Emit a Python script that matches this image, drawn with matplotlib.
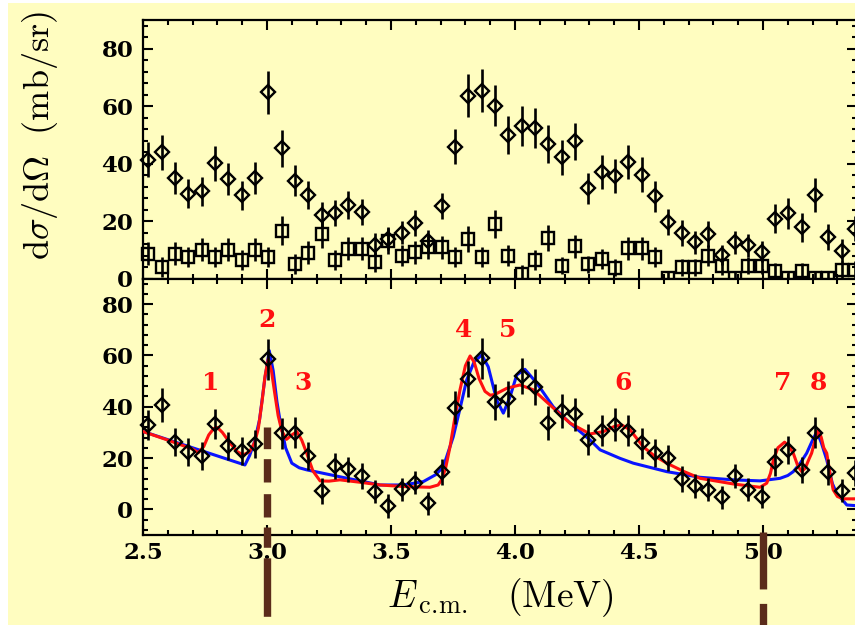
import matplotlib
matplotlib.use('Agg')
import matplotlib.pyplot as plt
from matplotlib.patches import Rectangle
from matplotlib.ticker import MultipleLocator, FormatStrFormatter

plt.rcParams['mathtext.fontset'] = 'cm'
plt.rcParams['lines.scale_dashes'] = False

# ---------------- data ----------------
energy = [2.521, 2.575, 2.629, 2.683, 2.737, 2.790, 2.844, 2.898, 2.952, 3.005,
          3.059, 3.113, 3.167, 3.220, 3.274, 3.328, 3.382, 3.435, 3.489, 3.543,
          3.597, 3.650, 3.704, 3.758, 3.812, 3.866, 3.919, 3.973, 4.027, 4.081,
          4.134, 4.188, 4.242, 4.296, 4.349, 4.403, 4.457, 4.511, 4.565, 4.618,
          4.672, 4.726, 4.780, 4.834, 4.887, 4.941, 4.995, 5.049, 5.102, 5.156,
          5.210, 5.264, 5.318, 5.371]

top_diamond = [41.4, 43.9, 34.9, 29.5, 30.3, 40.1, 34.7, 28.9, 34.9, 64.8,
               45.3, 34.1, 29.1, 22.1, 22.8, 25.6, 23.3, 11.7, 13.8, 15.9,
               19.2, 12.9, 25.2, 45.9, 63.7, 65.4, 60.2, 50.0, 53.2, 52.3,
               46.8, 42.2, 47.7, 31.4, 37.0, 35.6, 40.5, 36.2, 28.6, 19.6,
               15.8, 12.6, 15.5, 8.2, 12.6, 11.5, 9.4, 20.8, 22.7, 17.8,
               29.1, 14.4, 9.7, 17.4]
top_diamond_err = [6, 6, 5.5, 5, 5, 6, 5.5, 5, 5.5, 7.5,
                   6.5, 5.5, 5, 4.5, 4.5, 5, 4.5, 4, 4, 4,
                   4.5, 4, 4.5, 6, 7.5, 7.5, 7, 6.5, 7, 7,
                   6.5, 6, 6.5, 5.5, 6, 6, 6, 6, 5.5, 4.5,
                   4.5, 4, 4.5, 3.5, 4, 4, 3.5, 5, 5.5, 5,
                   6, 4.5, 4, 4.5]

top_square = [8.6, 3.9, 8.6, 7.6, 10.0, 7.6, 10.0, 6.5, 10.0, 7.6,
              16.7, 5.1, 8.9, 15.5, 6.5, 10.3, 10.3, 5.7, 13.2, 8.0,
              9.1, 10.9, 10.9, 7.4, 13.8, 7.4, 19.0, 8.0, 1.6, 6.3,
              14.0, 4.5, 11.2, 4.9, 6.8, 3.7, 10.6, 10.6, 7.6, 0.2,
              3.9, 3.9, 8.0, 4.2, 0.2, 4.5, 4.5, 2.5, 0.2, 2.5,
              0.2, 0.2, 3.0, 3.0]
top_square_err = [4, 3.5, 4, 3.5, 4, 3.5, 4, 3.5, 4, 3.5,
                  5, 3.5, 4, 5, 3.5, 4, 4, 3.5, 4.5, 3.5,
                  4, 4, 4, 3.5, 4.5, 3.5, 5, 3.5, 3, 3.5,
                  4.5, 3, 4, 3, 3.5, 3, 4, 4, 3.5, 2.5,
                  3, 3, 3.5, 3, 2.5, 3, 3, 3, 2.5, 3,
                  2.5, 2.5, 3, 3]

bottom_diamond = [32.9, 40.7, 26.2, 22.5, 20.9, 33.3, 24.8, 22.9, 25.5, 58.5,
                  29.7, 29.9, 20.8, 7.2, 17.0, 15.6, 13.0, 6.9, 1.3, 7.8,
                  10.4, 2.4, 14.5, 39.6, 50.7, 58.9, 42.0, 43.0, 52.0, 47.6,
                  33.6, 38.4, 37.1, 27.1, 30.7, 33.0, 30.7, 25.8, 21.9, 19.9,
                  11.9, 9.1, 7.6, 4.7, 13.0, 7.6, 5.0, 18.6, 23.2, 15.4,
                  29.9, 14.5, 7.3, 14.1]
bottom_diamond_err = [6, 6.5, 5.5, 5.5, 5.5, 6, 5.5, 5.5, 5.5, 8,
                      6, 6, 5.5, 5, 5, 5, 5, 4.5, 4.5, 4.5,
                      4.5, 4.5, 5, 6.5, 7, 8, 7, 7, 7, 7,
                      6.5, 6.5, 6.5, 6, 6, 6.5, 6, 6, 5.5, 5,
                      5, 4.5, 4.5, 4.5, 4.5, 4.5, 4.5, 5.5, 5.5, 5,
                      6, 5, 4.5, 5]

red_E = [2.48, 2.60, 2.70, 2.723, 2.745, 2.765, 2.785, 2.800, 2.820, 2.850,
         2.880, 2.904, 2.930, 2.950, 2.965, 2.980, 2.992, 3.005, 3.018, 3.030,
         3.045, 3.060, 3.079, 3.100, 3.120, 3.140, 3.160, 3.185, 3.214, 3.250,
         3.294, 3.380, 3.456, 3.550, 3.657, 3.690, 3.704, 3.720, 3.738, 3.758,
         3.778, 3.800, 3.819, 3.835, 3.855, 3.879, 3.900, 3.919, 3.967, 4.020,
         4.074, 4.141, 4.222, 4.302, 4.356, 4.400, 4.430, 4.464, 4.517, 4.560,
         4.612, 4.680, 4.746, 4.880, 4.988, 5.015, 5.030, 5.042, 5.060, 5.087,
         5.105, 5.122, 5.140, 5.156, 5.170, 5.185, 5.196, 5.210, 5.223, 5.235,
         5.245, 5.257, 5.270, 5.283, 5.300, 5.324, 5.380]
red_xs = [31.0, 27.0, 23.5, 22.1, 24.5, 29.0, 31.5, 31.9, 30.0, 26.0,
          22.5, 21.2, 22.5, 26.0, 31.5, 42.0, 52.0, 58.5, 54.0, 46.0,
          36.5, 30.5, 27.3, 29.0, 30.3, 27.0, 21.9, 15.0, 11.1, 11.0,
          11.5, 10.5, 9.5, 8.9, 8.6, 9.5, 11.5, 16.0, 24.4, 36.0,
          46.5, 56.0, 59.8, 57.5, 51.0, 46.0, 44.5, 44.8, 47.2, 48.5,
          46.6, 40.7, 33.6, 29.4, 30.3, 32.3, 32.9, 31.0, 24.4, 21.0,
          18.0, 14.8, 12.1, 9.9, 8.6, 10.2, 14.0, 19.3, 24.0, 26.2,
          24.5, 21.9, 17.0, 14.7, 16.0, 19.5, 21.9, 27.0, 31.0, 28.0,
          24.0, 21.9, 14.0, 7.6, 5.0, 4.1, 4.1]

blue_E = [2.48, 2.70, 2.911, 2.930, 2.950, 2.970, 2.990, 3.009, 3.025, 3.040,
          3.052, 3.075, 3.100, 3.130, 3.160, 3.294, 3.456, 3.550, 3.630, 3.680,
          3.711, 3.751, 3.780, 3.805, 3.835, 3.866, 3.892, 3.926, 3.953, 3.980,
          4.007, 4.040, 4.088, 4.154, 4.222, 4.302, 4.343, 4.423, 4.477, 4.612,
          4.746, 4.880, 4.988, 5.069, 5.100, 5.122, 5.150, 5.176, 5.200, 5.217,
          5.235, 5.257, 5.280, 5.297, 5.338, 5.380]
blue_xs = [31.0, 24.0, 17.3, 21.0, 26.5, 35.0, 50.0, 61.9, 54.0, 42.0,
           34.9, 24.0, 18.0, 16.2, 15.4, 12.7, 9.5, 9.5, 10.8, 13.5,
           16.6, 28.3, 40.0, 50.4, 57.5, 60.2, 55.6, 42.6, 37.5, 43.9,
           52.4, 54.6, 49.2, 40.0, 33.6, 27.1, 23.2, 19.9, 18.0, 14.7,
           12.5, 11.5, 11.1, 12.1, 13.2, 14.7, 18.0, 21.9, 27.0, 30.3,
           26.0, 19.3, 10.0, 6.3, 1.7, 1.4]

peak_labels = ['1', '2', '3', '4', '5', '6', '7', '8']
peak_E = [2.774, 2.999, 3.144, 3.792, 3.969, 4.437, 5.079, 5.223]
peak_y = [49.2, 73.8, 49.2, 70.0, 70.0, 49.2, 49.2, 49.2]

threshold_E = [3.0, 5.0]
threshold_top = [32.1, -9.0]

x_ticks = [2.5, 3.0, 3.5, 4.0, 4.5, 5.0]
y_ticks = [0, 20, 40, 60, 80]

# ---------------- style ----------------
YELLOW = '#FFFDC0'
BROWN = '#5b2c1b'
tick_font = dict(family='DejaVu Serif', weight='bold', size=16.5)

W, H = 855, 625
fig = plt.figure(figsize=(W / 100, H / 100), dpi=100, facecolor='white')
fig.patches.append(Rectangle((8 / W, 0), 1, 1 - 3 / H, transform=fig.transFigure,
                             facecolor=YELLOW, edgecolor='none', zorder=-10))

left = 143 / W
width = (857 - 143) / W
ax_top = fig.add_axes([left, 1 - 278.5 / H, width, (278.5 - 20) / H])
ax_bot = fig.add_axes([left, 1 - 535 / H, width, (535 - 278.5) / H])

for ax in (ax_top, ax_bot):
    ax.set_facecolor(YELLOW)
    ax.set_xlim(2.5, 5.379)
    ax.xaxis.set_major_locator(MultipleLocator(0.5))
    ax.xaxis.set_minor_locator(MultipleLocator(0.1))
    ax.yaxis.set_minor_locator(MultipleLocator(4))
    ax.set_yticks(y_ticks)
    ax.tick_params(which='both', direction='in', top=True, right=True,
                   width=1.5, color='black')
    ax.tick_params(which='major', length=7.5)
    ax.tick_params(which='minor', length=3.8)
    ax.tick_params(axis='y', pad=7)
    for s in ax.spines.values():
        s.set_linewidth(1.6)

ax_top.set_ylim(0, 90)
ax_bot.set_ylim(-10, 90)
ax_top.tick_params(axis='x', labelbottom=False)
ax_bot.set_xticks(x_ticks)
ax_bot.xaxis.set_major_formatter(FormatStrFormatter('%.1f'))
ax_bot.tick_params(axis='x', pad=5)
for lab in ax_bot.get_xticklabels():
    lab.set_fontproperties(tick_font)
for ax in (ax_top, ax_bot):
    for lab in ax.get_yticklabels():
        lab.set_fontproperties(tick_font)


def draw_points(ax, y, err, marker, ms):
    eb = ax.errorbar(energy, y, yerr=err, fmt=marker, ms=ms, mfc='none',
                     mec='black', mew=1.7, ecolor='black', elinewidth=1.9,
                     capsize=0, zorder=5)
    for child in eb.get_children():
        child.set_clip_on(False)
    return eb


draw_points(ax_top, top_square, top_square_err, 's', 9.3)
draw_points(ax_top, top_diamond, top_diamond_err, 'D', 7.0)

ax_bot.plot(blue_E, blue_xs, color='#0a14ff', lw=2.2, zorder=3)
ax_bot.plot(red_E, red_xs, color='#ff1010', lw=2.2, zorder=4)
draw_points(ax_bot, bottom_diamond, bottom_diamond_err, 'D', 7.0)

for t, xe, ye in zip(peak_labels, peak_E, peak_y):
    ax_bot.text(xe, ye, t, color='#ff1010', ha='center', va='center',
                family='DejaVu Serif', weight='bold', size=18)

# threshold markers (dashed brown lines running below the axis)
dash_patterns = [(0, (15.6, 7.2, 16.8, 8.4, 16.8, 7.2, 14.6, 7.6, 42.1, 6.8, 30)),
                 (0, (41, 10.4, 30, 10))]
for xe, ytop, ls in zip(threshold_E, threshold_top, dash_patterns):
    ax_bot.plot([xe, xe], [ytop, -50], color=BROWN, lw=5.3, ls=ls,
                solid_capstyle='butt', dash_capstyle='butt', clip_on=False, zorder=6)

fig.text(40 / W, 1 - 135 / H, r'$\mathrm{d}\sigma/\mathrm{d}\Omega\ \ (\mathrm{mb/sr})$',
         rotation=90, ha='center', va='center', fontsize=26)
fig.text(500 / W, 1 - 598 / H, r'$E_{\,\mathrm{c.\!m.}}\ \ \ (\mathrm{MeV})$',
         ha='center', va='center', fontsize=27)

fig.savefig('out.png', dpi=100, facecolor=fig.get_facecolor())
